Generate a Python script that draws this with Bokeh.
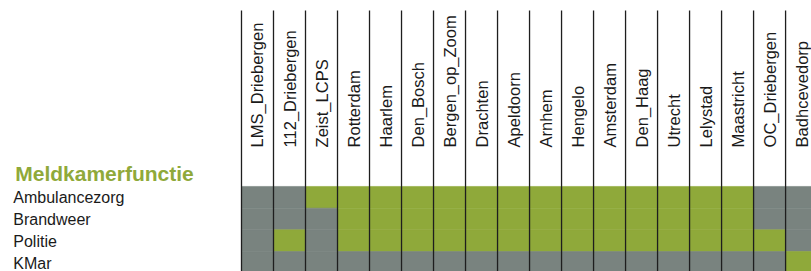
from bokeh.plotting import figure
from bokeh.models import Range1d
from bokeh.core.properties import value
from bokeh.embed import file_html
from bokeh.resources import INLINE
import math

# ---- data ----
stations = ["LMS_Driebergen", "112_Driebergen", "Zeist_LCPS", "Rotterdam", "Haarlem",
            "Den_Bosch", "Bergen_op_Zoom", "Drachten", "Apeldoorn", "Arnhem", "Hengelo",
            "Amsterdam", "Den_Haag", "Utrecht", "Lelystad", "Maastricht", "OC_Driebergen",
            "Badhcevedorp"]
functions = ["Ambulancezorg", "Brandweer", "Politie", "KMar"]
title_text = "Meldkamerfunctie"
ambulancezorg = [0, 0, 1, 1, 1, 1, 1, 1, 1, 1, 1, 1, 1, 1, 1, 1, 0, 0]
brandweer     = [0, 0, 0, 1, 1, 1, 1, 1, 1, 1, 1, 1, 1, 1, 1, 1, 0, 0]
politie       = [0, 1, 0, 1, 1, 1, 1, 1, 1, 1, 1, 1, 1, 1, 1, 1, 1, 0]
kmar          = [0, 0, 0, 0, 0, 0, 0, 0, 0, 0, 0, 0, 0, 0, 0, 0, 0, 1]
matrix = [ambulancezorg, brandweer, politie, kmar]

GREEN = "#8fa93a"
GREY = "#79837f"
FONT = "Liberation Sans"

W, H = 811, 271
p = figure(width=W, height=H, output_backend="svg", toolbar_location=None,
           x_axis_type=None, y_axis_type=None,
           x_range=Range1d(-7.53, 17.81), y_range=Range1d(3.92, -8.57))
p.min_border = 0
p.min_border_left = p.min_border_right = p.min_border_top = p.min_border_bottom = 0
p.outline_line_color = None
p.xgrid.visible = False
p.ygrid.visible = False
p.background_fill_color = "white"
p.border_fill_color = "white"

# cells
left, right, top, bottom, colors = [], [], [], [], []
for j, row in enumerate(matrix):
    for i, v in enumerate(row):
        left.append(i)
        right.append(i + 1)
        top.append(j)
        bottom.append(j + 1)
        colors.append(GREEN if v else GREY)
p.quad(left=left, right=right, top=top, bottom=bottom, fill_color=colors,
       line_color=colors, line_width=0.6)

# vertical separators
n = len(stations)
xs = list(range(n + 1))
p.segment(x0=xs, y0=[-8.11] * len(xs), x1=xs, y1=[len(functions) + 0.5] * len(xs),
          line_color="#1e1e1e", line_width=1.3)

# column labels
p.text(x=[i + 0.5 for i in range(n)], y=[-1.8] * n, text=stations,
       angle=math.pi / 2, text_align="left", text_baseline="middle",
       text_font=value(FONT), text_font_size="16.5px", text_color="#1a1a1a")

# row labels
p.text(x=[-7.13] * len(functions), y=[j + 0.53 for j in range(len(functions))],
       text=functions, text_align="left", text_baseline="alphabetic",
       text_font=value(FONT), text_font_size="16px", text_color="#1a1a1a")

# title
p.text(x=[-7.07], y=[-0.58], text=[title_text], text_align="left",
       text_baseline="alphabetic", text_font=value(FONT), text_font_size="21px",
       text_font_style="bold", text_color=GREEN)

open("out.html", "w").write(file_html(p, INLINE))
